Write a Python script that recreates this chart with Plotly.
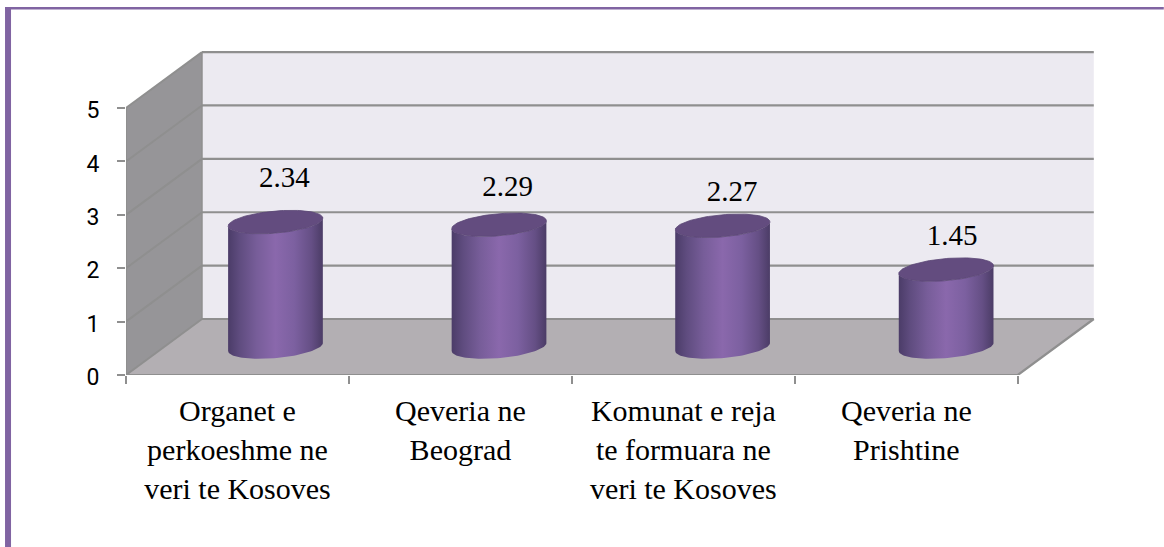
import numpy as np
import plotly.graph_objects as go

CATEGORIES = ["Organet e<br>perkoeshme ne<br>veri te Kosoves", "Qeveria ne<br>Beograd",
              "Komunat e reja<br>te formuara ne<br>veri te Kosoves", "Qeveria ne<br>Prishtine"]
VALUES = [2.34, 2.29, 2.27, 1.45]
VALUE_LABELS = ["2.34", "2.29", "2.27", "1.45"]
Y_TICKS = [0, 1, 2, 3, 4, 5]

# layout constants (pixels)
PX_X, PX_Y = 223.0, 53.4
LEFT, BOTTOM_Y = 126, 375
X_MAX, Y_MAX = 4.4, 6.2
DEPTH_X, DEPTH_Y = 76 / PX_X, 56 / PX_Y
R_X, R_D = 0.2, 0.21
BAR_PITCH = 223.6 / PX_X
LABEL_LIFT_PX = [42, 36, 32, 32]
LABEL_SHIFT_PX = [9, 8.5, 9.5, 6]
W, H = 1164, 547
plot_w, plot_h = X_MAX * PX_X, Y_MAX * PX_Y

GRID = "#8f8f8f"
FONT_SERIF = "Liberation Serif"
fig = go.Figure()


def poly(xs, ys, fill=None, line=None, width=0, grad=None):
    kw = dict(x=list(xs), y=list(ys), mode="lines", hoverinfo="skip", showlegend=False)
    kw["line"] = dict(color=line or "rgba(0,0,0,0)", width=width)
    if fill or grad:
        kw["fill"] = "toself"
    if fill:
        kw["fillcolor"] = fill
    if grad:
        kw["fillgradient"] = grad
    fig.add_trace(go.Scatter(**kw))


n = len(CATEGORIES)
bx = n + DEPTH_X
# walls and floor
poly([0, DEPTH_X, DEPTH_X, 0, 0], [0, DEPTH_Y, 5 + DEPTH_Y, 5, 0], fill="#969598")
poly([DEPTH_X, bx, bx, DEPTH_X, DEPTH_X], [DEPTH_Y, DEPTH_Y, 5 + DEPTH_Y, 5 + DEPTH_Y, DEPTH_Y], fill="#ECEAF1")
poly([0, n, bx, DEPTH_X, 0], [0, 0, DEPTH_Y, DEPTH_Y, 0], fill="#B3AFB3")
# gridlines
for v in Y_TICKS:
    poly([0, DEPTH_X], [v, v + DEPTH_Y], line=GRID, width=2)
    poly([DEPTH_X, bx], [v + DEPTH_Y, v + DEPTH_Y], line=GRID, width=2.2)
poly([0, 0], [0, 5], line=GRID, width=2)
poly([DEPTH_X, DEPTH_X], [DEPTH_Y, 5 + DEPTH_Y], line=GRID, width=1.5)
poly([0, n, bx], [0, 0, DEPTH_Y], line=GRID, width=2.2)

SCALE = [[0, "#4b3c68"], [0.12, "#5f4c7f"], [0.3, "#775d99"], [0.5, "#8a68ac"],
         [0.7, "#7c60a0"], [0.88, "#654f85"], [1, "#4b3c66"]]


def ring(cx, v, t):
    d = 0.5 + R_D * np.sin(t)
    return cx + DEPTH_X * d + R_X * np.cos(t), v + DEPTH_Y * d


edge_t = np.arctan2(DEPTH_X * R_D * PX_X, R_X * PX_X)
front = np.linspace(np.pi + edge_t, 2 * np.pi + edge_t, 60)
full = np.linspace(0, 2 * np.pi, 120)
centers = [i * BAR_PITCH + 0.5 for i in range(n)]
for cx, v in zip(centers, VALUES):
    xb, yb = ring(cx, 0, front)
    xt, yt = ring(cx, v, front[::-1])
    grad = dict(type="horizontal", colorscale=SCALE, start=float(xb.min()), stop=float(xb.max()))
    poly(np.r_[xb, xt], np.r_[yb, yt], grad=grad)
    xc, yc = ring(cx, v, full)
    poly(xc, yc, fill="#634c7f", line="#5a4675", width=0.8)

# data labels
fig.add_trace(go.Scatter(
    x=[cx + DEPTH_X / 2 + s / PX_X for cx, s in zip(centers, LABEL_SHIFT_PX)],
    y=[v + DEPTH_Y / 2 + lift / PX_Y for v, lift in zip(VALUES, LABEL_LIFT_PX)],
    mode="text", text=VALUE_LABELS, textposition="middle center",
    textfont=dict(family=FONT_SERIF, size=29, color="#000000"),
    hoverinfo="skip", showlegend=False, cliponaxis=False))

tick_px = 8
fig.update_layout(
    width=W, height=H,
    autosize=False,
    margin=dict(l=LEFT, r=W - LEFT - plot_w, t=BOTTOM_Y - plot_h, b=H - BOTTOM_Y, pad=0),
    paper_bgcolor="#ffffff", plot_bgcolor="#ffffff",
    xaxis=dict(range=[0, X_MAX], showgrid=False, zeroline=False, showline=False,
               tickmode="array", tickvals=[i + 0.5 for i in range(n)], ticktext=CATEGORIES,
               ticks="", tickangle=0, ticklabelstandoff=15,
               tickfont=dict(family=FONT_SERIF, size=30, color="#000000"),
               minor=dict(tickmode="array", tickvals=list(range(n + 1)), ticks="outside",
                          ticklen=tick_px, tickwidth=1.5, tickcolor=GRID, showgrid=False)),
    yaxis=dict(range=[0, Y_MAX], showgrid=False, zeroline=False, showline=False,
               tickmode="array", tickvals=Y_TICKS, ticks="outside", ticklen=tick_px,
               tickwidth=1.5, tickcolor=GRID, ticklabelstandoff=13, ticklabelshift=2,
               tickfont=dict(family="Roboto", size=23, color="#000000")),
    shapes=[
        dict(type="rect", xref="paper", yref="paper", layer="above",
             x0=(5 - LEFT) / plot_w, x1=(11 - LEFT) / plot_w,
             y0=(BOTTOM_Y - 547) / plot_h, y1=(BOTTOM_Y - 7) / plot_h,
             fillcolor="#8064A2", line=dict(width=0)),
        dict(type="rect", xref="paper", yref="paper", layer="above",
             x0=(5 - LEFT) / plot_w, x1=(1164 - LEFT) / plot_w,
             y0=(BOTTOM_Y - 9.5) / plot_h, y1=(BOTTOM_Y - 7) / plot_h,
             fillcolor="#8064A2", line=dict(width=0)),
    ],
)
fig.write_html("out.html", config=dict(displayModeBar=False),
               post_script="document.body.style.margin='0';document.body.style.overflow='hidden';")
